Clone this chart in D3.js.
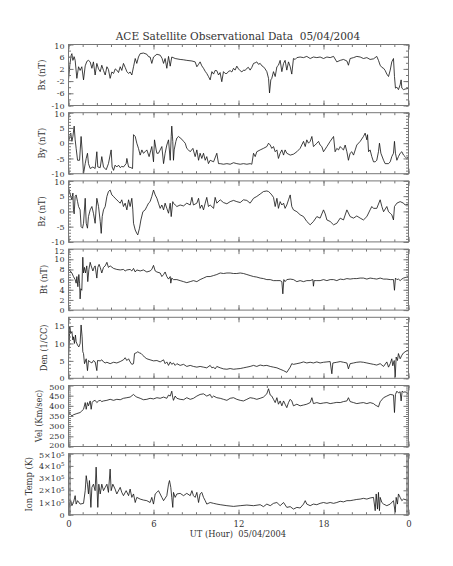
<!DOCTYPE html>
<html>
<head>
<meta charset="utf-8">
<script src="https://cdn.jsdelivr.net/npm/d3@7"></script>
<style>
  body { margin: 0; background: #fff; }
  text { font-family: "DejaVu Serif", "Liberation Serif", serif; fill: #333; }
</style>
</head>
<body>
<div id="chart"></div>
<script>
// UT hours of 05/04/2004, label "0" again at the end of the day
var hourTicks = [0, 6, 12, 18, 24];
var hourLabels = ["0", "6", "12", "18", "0"];

// [hour, value] pairs
var bxData = [[0,-1.6],[0.1,3.5],[0.19,6.5],[0.24,7.0],[0.31,4.8],[0.4,6.0],[0.47,4.8],[0.59,-1.1],[0.71,2.7],[0.82,1.5],[0.94,2.7],[1.06,-1.6],[1.18,3.0],[1.3,4.5],[1.41,4.8],[1.53,4.3],[1.65,2.2],[1.76,4.3],[1.88,0],[2.0,3.8],[2.12,2.0],[2.24,1.1],[2.35,3.2],[2.47,1.5],[2.59,0],[2.71,2.7],[2.82,1.8],[2.94,-1.1],[3.06,1.0],[3.18,0.5],[3.3,2.0],[3.41,1.6],[3.53,0.8],[3.65,2.7],[3.76,1.5],[3.88,3.8],[4.0,2.5],[4.12,1.1],[4.24,0.5],[4.35,1.0],[4.47,0],[4.59,2.7],[4.71,5.4],[4.82,3.8],[4.94,5.9],[5.06,7.0],[5.29,7.2],[5.53,6.8],[5.65,6.0],[5.76,5.9],[5.88,3.8],[6.0,5.9],[6.24,6.8],[6.47,6.5],[6.6,5.5],[6.71,3.8],[6.82,5.4],[6.94,2.2],[7.06,6.1],[7.18,2.9],[7.29,5.9],[7.53,5.4],[7.88,5.1],[8.1,5.0],[8.35,4.8],[8.71,4.6],[8.94,4.3],[9.06,2.7],[9.18,3.5],[9.29,4.3],[9.41,3.0],[9.53,2.2],[9.65,1.2],[9.76,0.5],[9.88,-0.5],[10.0,-1.6],[10.12,1.1],[10.24,0.3],[10.35,1.5],[10.47,1.4],[10.59,0],[10.7,0.8],[10.82,-2.2],[10.94,1.1],[11.06,0.5],[11.18,0.5],[11.3,1.2],[11.41,1.4],[11.53,1.0],[11.65,2.2],[11.76,1.6],[11.88,2.9],[12.0,2.0],[12.12,1.4],[12.24,1.0],[12.35,1.6],[12.47,1.5],[12.59,2.2],[12.7,2.5],[12.82,1.6],[12.94,2.5],[13.06,3.8],[13.18,4.0],[13.29,4.3],[13.41,3.5],[13.53,3.8],[13.65,3.0],[13.76,2.7],[13.88,2.0],[14.0,1.1],[14.12,-1.1],[14.19,-5.9],[14.28,-1.6],[14.35,-1.1],[14.47,1.1],[14.59,-0.5],[14.71,2.7],[14.82,3.2],[14.94,4.8],[15.06,1.1],[15.18,3.8],[15.29,4.8],[15.41,1.6],[15.53,4.3],[15.65,2.7],[15.76,0.3],[15.88,5.4],[16.0,5.1],[16.12,5.7],[16.35,5.9],[16.59,5.7],[16.82,6.1],[17.06,5.4],[17.29,5.9],[17.53,5.7],[17.76,5.9],[18.0,5.4],[18.24,5.9],[18.47,5.7],[18.71,6.1],[18.94,4.3],[19.18,4.8],[19.41,5.1],[19.65,4.6],[19.76,3.2],[19.88,5.4],[20.12,5.7],[20.35,6.1],[20.59,5.9],[20.82,5.4],[21.06,5.7],[21.29,5.1],[21.53,5.3],[21.76,6.1],[21.88,4.8],[22.0,3.2],[22.12,2.5],[22.24,2.2],[22.35,1.5],[22.47,0.3],[22.59,-0.5],[22.71,1.6],[22.82,4.3],[22.94,5.4],[23.01,-0.5],[23.08,-4.3],[23.18,-4.0],[23.29,-4.8],[23.41,-3.2],[23.48,-1.6],[23.53,-4.3],[23.65,-4.8],[23.76,-4.6],[24,-4.4]];

var byData = [[0,0.6],[0.07,1.7],[0.16,3.3],[0.24,0.6],[0.31,2.2],[0.40,5.6],[0.47,1.1],[0.54,-1.7],[0.64,-5.6],[0.78,-5.6],[0.89,2.2],[0.96,-2.2],[1.06,-10],[1.18,-6.7],[1.25,-5.0],[1.34,-3.3],[1.41,-6.7],[1.53,-8.3],[1.72,-7.8],[1.88,-8.3],[2.00,-2.8],[2.07,-7.8],[2.24,-8.0],[2.35,-4.4],[2.47,-7.8],[2.66,-8.7],[2.82,-6.7],[3.01,-2.2],[3.08,-7.8],[3.18,-8.9],[3.29,-7.2],[3.41,-7.8],[3.53,-7.2],[3.65,-8.0],[3.76,-7.6],[3.88,-7.8],[4.07,-6.7],[4.12,-5.0],[4.24,-7.8],[4.40,-8.0],[4.52,-8.3],[4.59,2.8],[4.71,2.2],[4.82,0],[4.94,-1.7],[5.06,-3.9],[5.18,-2.2],[5.29,-3.3],[5.41,-2.8],[5.53,-2.2],[5.69,-4.4],[5.88,-1.1],[6.00,-6.1],[6.07,1.1],[6.19,-2.2],[6.24,-3.3],[6.35,-3.3],[6.47,-2.2],[6.59,-1.1],[6.71,-6.7],[6.82,-3.3],[6.94,-0.6],[7.06,1.1],[7.18,-5.6],[7.25,2.2],[7.29,5.6],[7.36,0.6],[7.41,-5.6],[7.46,-2.2],[7.58,0.6],[7.65,1.7],[7.76,2.2],[8.00,1.3],[8.12,0.6],[8.24,0],[8.35,-1.7],[8.47,-2.2],[8.59,-2.8],[8.78,-1.7],[8.94,-4.4],[9.06,-2.2],[9.18,-5.6],[9.29,-3.3],[9.41,-5.0],[9.53,-3.3],[9.65,-5.6],[9.76,-4.4],[9.88,-6.7],[10.00,-5.6],[10.24,-6.1],[10.47,-3.3],[10.59,-6.7],[10.71,-6.7],[10.94,-6.9],[11.18,-6.7],[11.41,-6.9],[11.65,-6.4],[11.88,-6.7],[12.12,-6.9],[12.35,-6.7],[12.59,-6.9],[12.82,-6.7],[12.94,-6.9],[13.06,-3.3],[13.18,-4.4],[13.29,-2.8],[13.53,-2.2],[13.76,-1.7],[14.00,-1.1],[14.12,0],[14.24,-0.6],[14.35,-1.7],[14.47,-1.1],[14.59,-2.8],[14.71,-2.2],[14.82,-5.0],[14.94,-3.3],[15.06,-2.2],[15.18,-3.9],[15.29,-2.2],[15.41,-3.3],[15.65,-3.9],[15.88,-3.6],[16.12,-2.8],[16.35,-1.7],[16.59,0.6],[16.71,-1.1],[16.82,1.1],[16.94,0],[17.06,0.6],[17.18,2.2],[17.29,-1.1],[17.41,-0.6],[17.53,0],[17.65,0.6],[17.76,-0.6],[17.88,-1.1],[18.00,-2.8],[18.24,-1.1],[18.47,0.6],[18.71,2.2],[18.82,-2.8],[18.94,-1.7],[19.06,-2.2],[19.18,-1.1],[19.29,-1.7],[19.41,-2.2],[19.53,-0.6],[19.65,-2.8],[19.76,-5.6],[19.88,-3.3],[20.00,-2.8],[20.12,-3.9],[20.24,-2.2],[20.35,-0.6],[20.59,0.6],[20.82,2.2],[20.94,3.3],[21.06,1.1],[21.11,2.8],[21.18,-2.8],[21.29,-2.2],[21.41,-4.4],[21.53,-6.1],[21.65,-6.1],[21.76,-5.6],[21.88,-2.8],[21.95,0],[22.05,-3.3],[22.24,-5.6],[22.35,-6.7],[22.59,-6.7],[22.71,-6.1],[22.82,-4.4],[22.94,-3.3],[23.01,0.6],[23.08,-3.3],[23.18,-5.6],[23.29,-4.4],[23.41,-3.3],[23.53,-2.8],[23.65,-3.9],[23.76,-4.4],[23.88,-5.0],[24,-4.4]];

var bzData = [[0,8.1],[0.07,6.5],[0.16,4.9],[0.24,3.8],[0.31,6.0],[0.35,0.5],[0.40,-0.8],[0.47,4.9],[0.54,5.4],[0.64,3.2],[0.71,1.6],[0.82,0.5],[0.89,-5.0],[0.99,-5.5],[1.06,-3.9],[1.18,4.3],[1.25,-3.9],[1.34,-5.5],[1.41,-1.7],[1.53,0.5],[1.65,1.6],[1.76,-0.6],[1.88,-3.9],[2.00,4.3],[2.12,1.6],[2.24,-3.3],[2.31,-7.2],[2.38,-1.7],[2.47,0.5],[2.59,1.6],[2.71,4.9],[2.82,6.5],[2.94,7.0],[3.06,5.4],[3.18,4.9],[3.29,4.3],[3.41,3.8],[3.53,3.2],[3.65,2.7],[3.76,3.8],[3.88,1.6],[4.00,2.7],[4.12,0.5],[4.24,3.8],[4.35,1.6],[4.47,4.3],[4.54,0.5],[4.59,-3.9],[4.71,-6.1],[4.82,-7.2],[4.89,-7.7],[5.01,-5.5],[5.11,-2.8],[5.25,-0.1],[5.41,0.5],[5.53,1.6],[5.65,2.7],[5.76,3.2],[5.88,4.9],[6.00,7.0],[6.12,5.4],[6.24,4.3],[6.35,2.7],[6.47,1.0],[6.59,2.1],[6.71,0.5],[6.82,2.7],[6.94,1.0],[7.06,-0.6],[7.18,2.7],[7.25,-1.7],[7.36,3.2],[7.41,2.7],[7.53,2.1],[7.65,1.6],[7.88,2.1],[8.12,1.8],[8.35,2.7],[8.59,2.1],[8.71,4.6],[8.82,2.1],[9.06,2.7],[9.18,4.3],[9.29,1.0],[9.41,2.1],[9.53,0.5],[9.65,2.7],[9.76,4.6],[9.88,1.6],[10.00,2.1],[10.24,1.0],[10.35,4.6],[10.47,2.7],[10.71,3.8],[10.94,2.9],[11.18,2.5],[11.41,3.2],[11.65,3.6],[11.88,3.2],[12.12,2.9],[12.35,3.8],[12.59,3.6],[12.82,2.7],[13.06,4.3],[13.29,4.9],[13.53,5.7],[13.76,6.5],[14.00,6.7],[14.12,6.5],[14.24,6.0],[14.35,5.4],[14.47,4.6],[14.59,1.6],[14.71,4.3],[14.82,1.0],[14.94,3.2],[15.06,2.1],[15.18,2.7],[15.29,1.0],[15.41,2.1],[15.53,3.8],[15.65,5.4],[15.76,1.6],[15.88,0.5],[16.12,-0.1],[16.35,-1.1],[16.59,-1.7],[16.82,-3.3],[17.06,-4.4],[17.29,-3.3],[17.53,-1.7],[17.76,-2.2],[18.00,0.5],[18.12,-0.8],[18.24,-2.8],[18.47,-3.3],[18.71,-4.4],[18.94,-3.9],[19.18,-2.2],[19.41,-2.8],[19.65,0.5],[19.88,-1.7],[20.12,-2.2],[20.35,-1.5],[20.59,-2.2],[20.82,-2.8],[21.06,-1.7],[21.29,0.5],[21.41,1.6],[21.53,1.0],[21.76,1.0],[22.00,3.8],[22.12,1.6],[22.24,-0.1],[22.47,1.6],[22.59,-0.1],[22.71,-0.6],[22.82,-1.1],[22.94,-2.8],[23.01,1.6],[23.18,2.7],[23.41,3.2],[23.65,2.7],[23.76,2.1],[24,2.4]];

var btData = [[0,8.0],[0.12,7.7],[0.24,7.3],[0.35,6.6],[0.47,6.0],[0.54,5.3],[0.59,6.6],[0.66,4.6],[0.73,7.0],[0.78,5.3],[0.82,2.2],[0.87,4.2],[0.94,3.9],[1.01,10.4],[1.06,7.3],[1.13,8.4],[1.20,7.3],[1.29,8.7],[1.36,5.6],[1.44,8.0],[1.53,9.4],[1.60,8.7],[1.72,7.7],[1.81,8.4],[1.88,8.7],[2.00,6.3],[2.07,8.4],[2.16,9.0],[2.24,8.4],[2.35,7.3],[2.47,8.4],[2.59,8.7],[2.71,9.4],[2.82,8.4],[2.94,8.7],[3.18,8.2],[3.41,8.0],[3.65,7.9],[3.88,8.0],[4.00,7.7],[4.12,7.9],[4.35,8.0],[4.47,7.7],[4.59,8.2],[4.71,7.5],[4.82,7.9],[5.06,7.7],[5.29,7.9],[5.53,7.5],[5.76,7.7],[5.88,8.0],[6.00,8.8],[6.12,7.7],[6.24,7.5],[6.47,7.3],[6.59,6.6],[6.71,7.0],[6.82,7.5],[6.94,6.6],[7.06,6.1],[7.18,6.6],[7.22,5.3],[7.29,6.3],[7.41,6.0],[7.65,6.0],[7.88,5.8],[8.12,5.6],[8.35,5.4],[8.59,5.6],[8.82,5.8],[9.06,5.6],[9.29,6.0],[9.53,6.3],[9.76,6.6],[10.00,6.6],[10.24,6.8],[10.47,7.0],[10.71,7.3],[10.94,7.2],[11.18,7.3],[11.41,7.3],[11.65,7.2],[11.88,7.2],[12.12,7.3],[12.35,7.2],[12.59,7.0],[12.82,6.8],[13.06,6.6],[13.29,6.5],[13.53,6.3],[13.76,6.2],[14.00,6.0],[14.24,6.0],[14.47,5.8],[14.71,5.8],[14.94,5.8],[15.06,5.6],[15.13,3.2],[15.20,6.0],[15.29,5.6],[15.41,6.0],[15.65,6.1],[15.88,6.0],[16.12,5.6],[16.35,5.8],[16.59,5.6],[16.82,5.8],[17.06,5.8],[17.25,6.0],[17.29,4.7],[17.34,5.8],[17.53,5.8],[17.76,5.8],[18.00,6.0],[18.24,5.8],[18.47,6.0],[18.71,6.0],[18.94,5.8],[19.18,6.1],[19.41,6.0],[19.65,6.2],[19.88,6.1],[20.12,6.2],[20.35,6.2],[20.59,6.3],[20.82,6.3],[21.06,6.1],[21.29,6.3],[21.53,6.2],[21.76,6.1],[22.00,6.3],[22.24,6.1],[22.47,6.1],[22.71,6.0],[22.94,6.0],[23.01,3.9],[23.08,6.3],[23.18,6.0],[23.29,6.1],[23.41,5.8],[23.53,6.1],[23.65,6.3],[23.76,6.4],[23.88,6.5],[24,6.6]];

var denData = [[0,5.6],[0.05,10.0],[0.09,14.9],[0.16,12.9],[0.24,13.4],[0.31,11.0],[0.35,11.9],[0.42,10.0],[0.49,12.4],[0.54,10.5],[0.64,9.5],[0.73,9.0],[0.82,10.0],[0.89,15.3],[0.96,11.9],[1.01,7.6],[1.06,7.1],[1.13,4.2],[1.25,5.6],[1.34,2.2],[1.41,5.1],[1.53,4.7],[1.65,4.4],[1.76,5.1],[1.88,4.7],[2.00,2.2],[2.05,5.1],[2.24,5.0],[2.35,5.3],[2.47,4.7],[2.59,4.4],[2.71,4.6],[2.94,4.2],[3.18,4.6],[3.41,4.4],[3.65,4.8],[3.88,5.3],[4.00,5.9],[4.12,5.1],[4.24,5.6],[4.35,4.7],[4.47,4.0],[4.59,4.2],[4.66,7.1],[4.78,7.3],[4.89,7.6],[5.01,7.3],[5.13,7.1],[5.25,6.6],[5.36,6.1],[5.53,5.6],[5.76,5.3],[6.00,5.0],[6.24,5.1],[6.47,4.7],[6.71,5.3],[6.82,4.2],[6.94,4.7],[7.06,3.7],[7.18,4.7],[7.29,4.0],[7.41,4.4],[7.53,3.7],[7.65,4.2],[7.88,3.7],[8.12,4.0],[8.35,3.4],[8.59,3.7],[8.82,3.4],[9.06,3.2],[9.29,3.4],[9.53,3.2],[9.76,3.0],[10.00,3.7],[10.12,3.0],[10.24,3.2],[10.35,2.7],[10.47,3.4],[10.71,3.0],[10.94,2.7],[11.18,2.6],[11.41,2.8],[11.65,2.6],[11.88,2.7],[12.12,2.8],[12.35,3.0],[12.59,3.2],[12.82,3.4],[13.06,3.7],[13.29,3.4],[13.53,3.8],[13.76,3.6],[14.00,3.7],[14.24,3.4],[14.47,3.2],[14.71,3.0],[14.94,2.6],[15.18,2.2],[15.41,1.7],[15.65,3.2],[15.76,4.2],[15.88,4.0],[16.12,4.2],[16.35,4.4],[16.59,4.7],[16.82,4.4],[17.06,4.6],[17.29,4.4],[17.53,4.7],[17.76,4.4],[18.00,4.6],[18.24,4.7],[18.47,4.8],[18.59,1.3],[18.66,4.4],[18.94,4.6],[19.18,4.8],[19.41,4.6],[19.65,4.4],[19.76,2.7],[19.88,4.2],[20.12,4.4],[20.35,4.6],[20.59,4.7],[20.82,4.6],[21.06,4.4],[21.29,4.2],[21.53,4.0],[21.76,3.8],[22.00,4.2],[22.24,3.4],[22.47,4.7],[22.59,3.2],[22.71,4.2],[22.82,5.6],[22.89,3.6],[22.99,5.1],[23.06,0.3],[23.13,6.1],[23.22,5.1],[23.29,7.1],[23.41,5.6],[23.53,6.6],[23.65,7.3],[23.76,7.6],[23.88,7.9],[24,8.1]];

var velData = [[0,375],[0.12,359],[0.24,351],[0.35,356],[0.59,362],[0.82,367],[0.94,375],[1.06,383],[1.18,416],[1.25,383],[1.34,416],[1.41,400],[1.53,424],[1.60,383],[1.67,416],[1.76,424],[1.88,427],[2.00,416],[2.12,424],[2.24,427],[2.35,421],[2.47,424],[2.71,427],[2.94,432],[3.18,427],[3.41,432],[3.65,430],[3.88,437],[4.12,440],[4.35,443],[4.59,456],[4.71,448],[4.82,443],[5.06,437],[5.29,430],[5.53,432],[5.76,437],[6.00,434],[6.24,440],[6.47,437],[6.71,443],[6.94,437],[7.06,453],[7.18,448],[7.29,472],[7.36,440],[7.41,427],[7.53,448],[7.65,437],[7.88,432],[8.12,430],[8.35,440],[8.59,432],[8.82,437],[9.06,448],[9.29,456],[9.53,459],[9.76,448],[10.00,456],[10.12,440],[10.24,448],[10.47,440],[10.71,437],[10.94,432],[11.18,427],[11.41,437],[11.65,440],[11.88,432],[12.12,427],[12.35,424],[12.59,432],[12.82,440],[13.06,437],[13.29,432],[13.53,437],[13.76,443],[14.00,459],[14.12,484],[14.24,453],[14.35,448],[14.47,432],[14.59,416],[14.71,440],[14.82,408],[14.94,424],[15.06,400],[15.18,424],[15.29,408],[15.41,391],[15.53,416],[15.65,432],[15.76,424],[15.88,400],[16.12,408],[16.35,400],[16.59,404],[16.82,408],[17.06,416],[17.18,440],[17.29,411],[17.53,416],[17.76,411],[18.00,414],[18.24,416],[18.47,411],[18.71,414],[18.94,417],[19.18,416],[19.41,421],[19.65,424],[19.76,440],[19.88,421],[20.12,416],[20.35,411],[20.59,414],[20.82,416],[21.06,411],[21.29,416],[21.53,411],[21.65,404],[21.76,400],[21.88,395],[22.00,420],[22.24,440],[22.47,448],[22.71,456],[22.94,453],[23.01,367],[23.08,456],[23.18,472],[23.29,464],[23.41,469],[23.48,424],[23.55,472],[23.65,467],[23.76,469],[23.88,464],[24,459]];

// ion temperature in units of 1e5 K
var tempData = [[0,0.19],[0.07,0.87],[0.16,1.15],[0.24,0.74],[0.35,1.0],[0.47,1.56],[0.54,0.87],[0.64,1.15],[0.82,0.87],[1.06,0.93],[1.18,1.97],[1.25,3.2],[1.34,2.5],[1.41,1.7],[1.48,2.8],[1.58,0.6],[1.65,2.24],[1.76,2.5],[1.88,1.97],[1.95,3.9],[2.00,2.5],[2.07,0.6],[2.14,2.5],[2.24,1.7],[2.35,2.5],[2.47,1.97],[2.59,2.24],[2.71,2.5],[2.82,1.83],[2.94,3.74],[3.01,1.97],[3.13,2.5],[3.29,2.1],[3.41,1.7],[3.65,2.24],[3.76,1.83],[3.88,1.56],[4.07,1.97],[4.24,1.56],[4.35,2.1],[4.47,1.42],[4.59,1.7],[4.71,1.0],[4.82,1.42],[5.06,1.28],[5.29,1.2],[5.53,1.15],[5.76,1.0],[5.88,1.42],[6.00,0.87],[6.12,1.7],[6.24,1.83],[6.35,1.97],[6.47,1.7],[6.59,1.42],[6.71,1.15],[6.94,1.56],[7.06,2.5],[7.13,2.8],[7.22,2.24],[7.29,1.42],[7.36,0.6],[7.41,1.83],[7.53,1.42],[7.65,1.7],[7.88,1.75],[8.12,1.56],[8.35,1.75],[8.59,1.56],[8.71,1.97],[8.82,1.56],[8.94,1.42],[9.06,1.83],[9.18,1.0],[9.29,1.7],[9.41,1.83],[9.53,1.42],[9.65,1.15],[9.76,0.87],[10.00,1.0],[10.24,0.93],[10.47,0.87],[10.71,0.82],[11.18,0.74],[11.65,0.68],[12.12,0.74],[12.59,0.79],[13.06,0.74],[13.53,0.82],[13.76,0.66],[14.00,0.87],[14.24,0.74],[14.47,0.93],[14.71,1.0],[14.94,0.74],[15.18,1.0],[15.41,0.6],[15.65,0.66],[15.88,0.46],[16.12,0.6],[16.35,0.55],[16.59,0.87],[16.71,1.15],[16.82,0.87],[17.06,0.74],[17.29,0.87],[17.53,0.82],[17.76,0.93],[18.00,1.0],[18.24,0.93],[18.47,1.0],[18.71,0.93],[18.94,1.0],[19.18,1.1],[19.41,1.05],[19.65,1.15],[19.88,1.15],[20.12,1.2],[20.35,1.25],[20.59,1.28],[20.82,1.34],[21.06,1.28],[21.29,1.37],[21.53,1.42],[21.65,0.33],[21.72,1.7],[21.81,0.46],[21.88,1.83],[21.95,0.33],[22.00,1.42],[22.12,1.0],[22.24,0.87],[22.47,0.74],[22.71,0.87],[22.94,1.15],[23.06,0.19],[23.13,1.42],[23.22,0.87],[23.29,1.7],[23.41,1.42],[23.53,1.15],[23.65,1.28],[23.88,1.2],[24,1.15]];

// y tick values per panel
var bxTicks = [-10, -6, -2, 2, 6, 10];
var byTicks = [-10, -5, 0, 5, 10];
var bzTicks = [-10, -5, 0, 5, 10];
var btTicks = [0, 2, 4, 6, 8, 10, 12];
var denTicks = [0, 5, 10, 15];
var velTicks = [200, 250, 300, 350, 400, 450, 500];
var tempTicks = [0, 1, 2, 3, 4, 5];

var panels = [
  {title: "Bx (nT)", data: bxData, domain: [-10, 10], ticks: bxTicks, minor: 2},
  {title: "By (nT)", data: byData, domain: [-10, 10], ticks: byTicks, minor: 1},
  {title: "Bz (nT)", data: bzData, domain: [-10, 10], ticks: bzTicks, minor: 1},
  {title: "Bt (nT)", data: btData, domain: [0, 12], ticks: btTicks, minor: 0.5},
  {title: "Den (1/CC)", data: denData, domain: [0, 17.5], ticks: denTicks, minor: 1},
  {title: "Vel (Km/sec)", data: velData, domain: [200, 500], ticks: velTicks, minor: 10},
  {title: "Ion Temp (K)", data: tempData, domain: [0, 5], ticks: tempTicks, minor: 0.1, sci: true}
];

var width = 453, height = 566;
var margin = {left: 68.5, right: 408.5, top: 44.5};
var panelH = 61, panelStep = 68.2;
var axisColor = "#777";
var tickFont = "'Liberation Serif', serif";

var svg = d3.select("#chart").append("svg")
    .attr("width", width)
    .attr("height", height);

var x = d3.scaleLinear().domain([0, 24]).range([margin.left, margin.right]);
var xMinor = d3.range(0, 24.01, 1);

// title
svg.append("text")
    .attr("x", 238)
    .attr("y", 40)
    .attr("text-anchor", "middle")
    .style("white-space", "pre")
    .attr("font-size", "10.5px")
    .text("ACE Satellite Observational Data  05/04/2004");

function styleAxis(sel) {
  sel.select(".domain").remove();
  sel.selectAll(".tick line").attr("stroke", axisColor);
  sel.selectAll(".tick text").attr("font-size", "8px").attr("fill", "#333")
     .attr("font-family", tickFont);
}

panels.forEach(function(p, i) {
  var top = margin.top + i * panelStep;
  var bottom = top + panelH;
  var y = d3.scaleLinear().domain(p.domain).range([bottom, top]);
  var g = svg.append("g");

  var minorVals = d3.range(p.domain[0], p.domain[1] + p.minor / 2, p.minor);

  // data line, clipped to the frame
  g.append("clipPath").attr("id", "clip" + i)
    .append("rect").attr("x", margin.left).attr("y", top)
    .attr("width", margin.right - margin.left).attr("height", panelH);

  g.append("path")
      .datum(p.data)
      .attr("clip-path", "url(#clip" + i + ")")
      .attr("fill", "none")
      .attr("stroke", "#111")
      .attr("stroke-width", 0.8)
      .attr("stroke-linejoin", "round")
      .attr("d", d3.line()
          .x(function(d) { return x(d[0]); })
          .y(function(d) { return y(d[1]); }));

  // left axis, ticks point inward
  var leftMinor = g.append("g").attr("transform", "translate(" + margin.left + ",0)")
      .call(d3.axisLeft(y).tickValues(minorVals).tickSize(-2.5).tickFormat(""));
  styleAxis(leftMinor);

  var leftAxis = g.append("g").attr("transform", "translate(" + margin.left + ",0)")
      .call(d3.axisLeft(y).tickValues(p.ticks).tickSize(-5).tickPadding(4)
          .tickFormat(function(d) { return d; }));
  styleAxis(leftAxis);

  // labels on the top edge sit a little lower, as in the original plot
  leftAxis.selectAll(".tick text")
      .attr("y", function(d) { return d === p.domain[1] ? 1.5 : 0; });
  if (i === 5) {
    leftAxis.selectAll(".tick text")
        .filter(function(d) { return d === p.domain[0]; }).attr("y", -1.5);
  }

  if (p.sci) {
    leftAxis.selectAll(".tick text").each(function(d) {
      var t = d3.select(this).text("");
      if (d === 0) { t.text("0"); return; }
      t.append("tspan").text(d + "\u00d710");
      t.append("tspan").attr("dy", "-0.45em").attr("font-size", "5.5px").text("5");
    });
  }

  // right axis, no labels
  var rightMinor = g.append("g").attr("transform", "translate(" + margin.right + ",0)")
      .call(d3.axisRight(y).tickValues(minorVals).tickSize(-2.5).tickFormat(""));
  styleAxis(rightMinor);
  var rightAxis = g.append("g").attr("transform", "translate(" + margin.right + ",0)")
      .call(d3.axisRight(y).tickValues(p.ticks).tickSize(-5).tickFormat(""));
  styleAxis(rightAxis);

  // top and bottom time axes
  [[top, d3.axisTop], [bottom, d3.axisBottom]].forEach(function(a) {
    var mi = g.append("g").attr("transform", "translate(0," + a[0] + ")")
        .call(a[1](x).tickValues(xMinor).tickSize(-2.5).tickFormat(""));
    styleAxis(mi);
    var ma = g.append("g").attr("transform", "translate(0," + a[0] + ")")
        .call(a[1](x).tickValues(hourTicks).tickSize(-5).tickFormat(""));
    styleAxis(ma);
  });

  // frame
  g.append("rect")
      .attr("x", margin.left).attr("y", top)
      .attr("width", margin.right - margin.left).attr("height", panelH)
      .attr("fill", "none").attr("stroke", axisColor).attr("stroke-width", 1);

  // y title placed left of the widest tick label (bbox is in the group's own coords)
  var box = leftAxis.node().getBBox();
  var titleX = margin.left + box.x - 7;
  svg.append("text")
      .attr("transform", "translate(" + titleX + "," + (top + panelH / 2) + ") rotate(-90)")
      .attr("text-anchor", "middle")
      .style("white-space", "pre")
      .attr("font-size", "8.3px")
      .text(p.title);

  if (i === panels.length - 1) {
    var xa = svg.append("g").attr("transform", "translate(0," + bottom + ")")
        .call(d3.axisBottom(x).tickValues(hourTicks).tickSize(0).tickPadding(6)
            .tickFormat(function(d, k) { return hourLabels[k]; }));
    styleAxis(xa);
    xa.selectAll(".tick text").attr("font-size", "8.5px");

    svg.append("text")
        .attr("x", 238)
        .attr("y", bottom + 22.5)
        .attr("text-anchor", "middle")
        .style("white-space", "pre")
        .attr("font-size", "8.3px")
        .text("UT (Hour)  05/04/2004");
  }
});
</script>
</body>
</html>
